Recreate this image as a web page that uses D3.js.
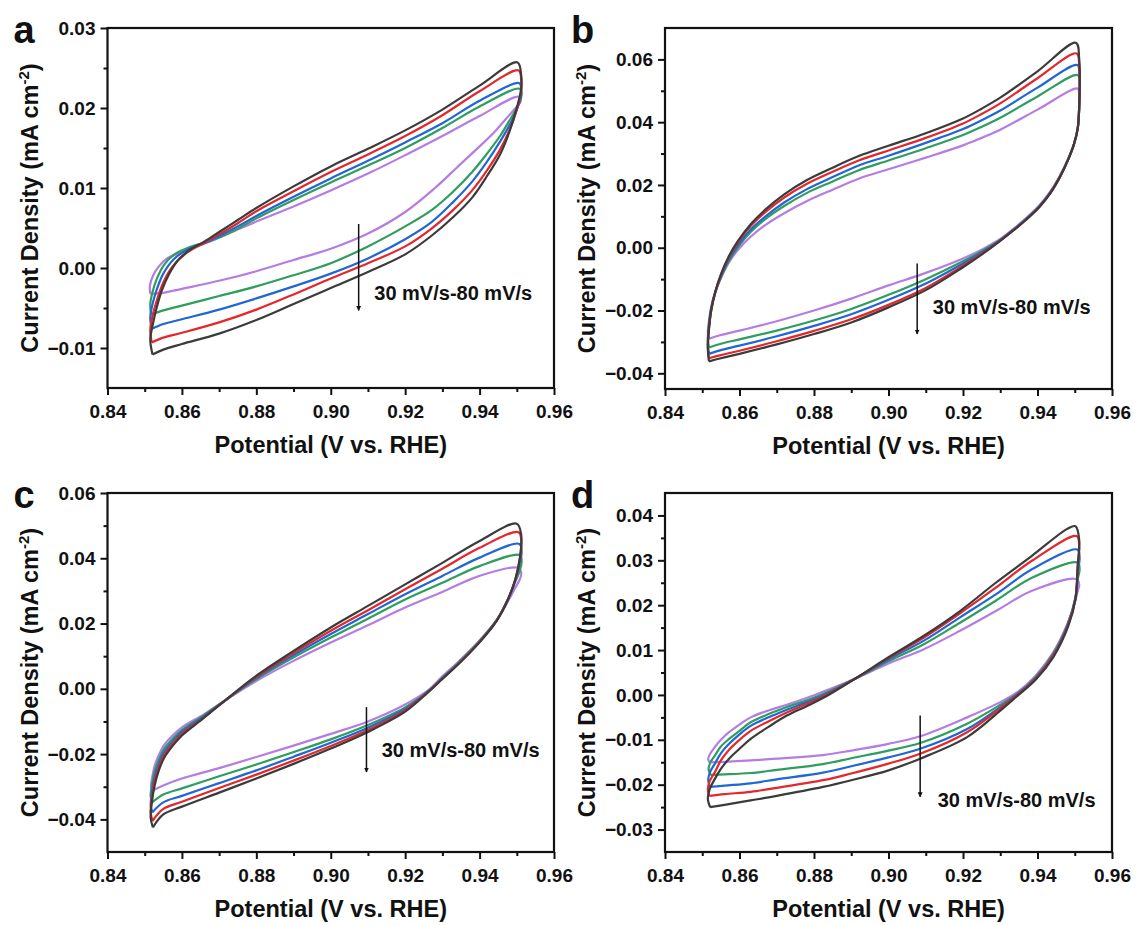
<!DOCTYPE html>
<meta charset="utf-8">
<head>
<style>
  body { margin: 0; background: #fff; }
  text { font-family: "Liberation Sans", Arial, sans-serif; font-weight: bold; fill: #111; }
</style>
</head>
<script src="https://d3js.org/d3.v7.min.js"></script>
<body>
<div id="my_dataviz"></div>
<script>
// ---- data: [potential (V), current density (mA cm-2)] ----
// each loop = anodic branch (left -> right) then cathodic branch (right -> left)

// panel a
var aBlack = [[0.8521,-0.0108],[0.8515,-0.0090],[0.8522,-0.0070],[0.8532,-0.0050],[0.8546,-0.0028],[0.8565,-0.0008],[0.8590,0.0010],[0.8622,0.0023],[0.8660,0.0033],[0.8700,0.0045],[0.8750,0.0060],[0.8800,0.0075],[0.8900,0.0102],[0.9000,0.0127],[0.9100,0.0149],[0.9200,0.0172],[0.9300,0.0198],[0.9400,0.0228],[0.9502,0.0257],
  [0.9512,0.0240],[0.9512,0.0225],[0.9500,0.0200],[0.9480,0.0170],[0.9455,0.0142],[0.9420,0.0115],[0.9380,0.0088],[0.9330,0.0064],[0.9270,0.0040],[0.9200,0.0017],[0.9100,-0.0005],[0.9000,-0.0025],[0.8900,-0.0045],[0.8800,-0.0065],[0.8700,-0.0082],[0.8600,-0.0095],[0.8550,-0.0102],[0.8521,-0.0108]];
var aRed = [[0.8519,-0.0093],[0.8515,-0.0078],[0.8521,-0.0060],[0.8533,-0.0040],[0.8550,-0.0018],[0.8575,0.0002],[0.8610,0.0018],[0.8650,0.0029],[0.8700,0.0042],[0.8750,0.0056],[0.8800,0.0071],[0.8900,0.0096],[0.9000,0.0120],[0.9100,0.0142],[0.9200,0.0165],[0.9300,0.0191],[0.9400,0.0221],[0.9505,0.0247],
  [0.9512,0.0232],[0.9512,0.0222],[0.9500,0.0198],[0.9480,0.0172],[0.9455,0.0148],[0.9420,0.0122],[0.9380,0.0097],[0.9330,0.0073],[0.9270,0.0049],[0.9200,0.0027],[0.9100,0.0006],[0.9000,-0.0013],[0.8900,-0.0033],[0.8800,-0.0052],[0.8700,-0.0068],[0.8600,-0.0081],[0.8550,-0.0087],[0.8519,-0.0093]];
var aBlue = [[0.8519,-0.0076],[0.8515,-0.0062],[0.8521,-0.0045],[0.8533,-0.0026],[0.8550,-0.0007],[0.8578,0.0011],[0.8615,0.0023],[0.8660,0.0031],[0.8700,0.0040],[0.8750,0.0052],[0.8800,0.0065],[0.8900,0.0089],[0.9000,0.0112],[0.9100,0.0134],[0.9200,0.0157],[0.9300,0.0181],[0.9400,0.0209],[0.9507,0.0231],
  [0.9512,0.0222],[0.9512,0.0216],[0.9500,0.0198],[0.9480,0.0178],[0.9455,0.0158],[0.9420,0.0133],[0.9380,0.0108],[0.9330,0.0083],[0.9270,0.0057],[0.9200,0.0036],[0.9100,0.0012],[0.9000,-0.0007],[0.8900,-0.0023],[0.8800,-0.0038],[0.8700,-0.0052],[0.8600,-0.0064],[0.8550,-0.0070],[0.8519,-0.0076]];
var aGreen = [[0.8517,-0.0058],[0.8515,-0.0045],[0.8521,-0.0030],[0.8533,-0.0013],[0.8552,0.0004],[0.8580,0.0017],[0.8620,0.0026],[0.8665,0.0032],[0.8700,0.0038],[0.8750,0.0049],[0.8800,0.0062],[0.8900,0.0085],[0.9000,0.0107],[0.9100,0.0128],[0.9200,0.0150],[0.9300,0.0175],[0.9400,0.0202],[0.9508,0.0224],
  [0.9512,0.0214],[0.9500,0.0200],[0.9480,0.0184],[0.9455,0.0165],[0.9420,0.0143],[0.9380,0.0120],[0.9330,0.0096],[0.9270,0.0072],[0.9200,0.0052],[0.9100,0.0027],[0.9000,0.0006],[0.8900,-0.0009],[0.8800,-0.0023],[0.8700,-0.0035],[0.8600,-0.0047],[0.8550,-0.0053],[0.8517,-0.0058]];
var aPurple = [[0.8515,-0.0032],[0.8514,-0.0022],[0.8522,-0.0010],[0.8538,0.0002],[0.8560,0.0012],[0.8600,0.0020],[0.8640,0.0027],[0.8680,0.0034],[0.8740,0.0046],[0.8800,0.0058],[0.8900,0.0077],[0.9000,0.0097],[0.9100,0.0118],[0.9200,0.0141],[0.9300,0.0165],[0.9400,0.0190],[0.9505,0.0214],
  [0.9510,0.0208],[0.9495,0.0199],[0.9470,0.0186],[0.9440,0.0170],[0.9400,0.0152],[0.9340,0.0126],[0.9280,0.0100],[0.9200,0.0070],[0.9100,0.0043],[0.9000,0.0024],[0.8900,0.0010],[0.8800,-0.0004],[0.8700,-0.0016],[0.8600,-0.0026],[0.8550,-0.0031],[0.8515,-0.0032]];

// panel b
var bBlack = [[0.8518,-0.0362],[0.8515,-0.0320],[0.8518,-0.0260],[0.8524,-0.0200],[0.8535,-0.0140],[0.8550,-0.0085],[0.8570,-0.0030],[0.8595,0.0020],[0.8630,0.0075],[0.8670,0.0122],[0.8720,0.0170],[0.8780,0.0215],[0.8850,0.0255],[0.8920,0.0292],[0.9000,0.0325],[0.9100,0.0365],[0.9200,0.0412],[0.9250,0.0443],[0.9300,0.0478],[0.9400,0.0562],[0.9503,0.0653],
  [0.9512,0.0600],[0.9512,0.0450],[0.9508,0.0380],[0.9498,0.0330],[0.9482,0.0280],[0.9460,0.0225],[0.9435,0.0175],[0.9405,0.0130],[0.9370,0.0090],[0.9335,0.0055],[0.9300,0.0022],[0.9250,-0.0022],[0.9200,-0.0062],[0.9100,-0.0135],[0.9000,-0.0190],[0.8900,-0.0238],[0.8800,-0.0275],[0.8700,-0.0308],[0.8600,-0.0338],[0.8550,-0.0352],[0.8518,-0.0362]];
var bRed = [[0.8518,-0.0352],[0.8515,-0.0315],[0.8518,-0.0258],[0.8524,-0.0200],[0.8535,-0.0142],[0.8550,-0.0088],[0.8570,-0.0034],[0.8595,0.0015],[0.8630,0.0069],[0.8670,0.0114],[0.8720,0.0160],[0.8780,0.0203],[0.8850,0.0242],[0.8920,0.0278],[0.9000,0.0310],[0.9100,0.0350],[0.9200,0.0396],[0.9250,0.0426],[0.9300,0.0460],[0.9400,0.0540],[0.9505,0.0619],
  [0.9512,0.0575],[0.9512,0.0450],[0.9508,0.0380],[0.9498,0.0330],[0.9482,0.0280],[0.9460,0.0225],[0.9435,0.0175],[0.9405,0.0130],[0.9370,0.0090],[0.9335,0.0055],[0.9300,0.0023],[0.9250,-0.0019],[0.9200,-0.0057],[0.9100,-0.0128],[0.9000,-0.0182],[0.8900,-0.0228],[0.8800,-0.0265],[0.8700,-0.0298],[0.8600,-0.0328],[0.8550,-0.0342],[0.8518,-0.0352]];
var bBlue = [[0.8518,-0.0338],[0.8515,-0.0305],[0.8518,-0.0252],[0.8524,-0.0197],[0.8535,-0.0142],[0.8550,-0.0092],[0.8570,-0.0040],[0.8595,0.0007],[0.8630,0.0058],[0.8670,0.0100],[0.8720,0.0144],[0.8780,0.0186],[0.8850,0.0225],[0.8920,0.0262],[0.9000,0.0293],[0.9100,0.0334],[0.9200,0.0378],[0.9250,0.0406],[0.9300,0.0437],[0.9400,0.0510],[0.9507,0.0582],
  [0.9513,0.0550],[0.9512,0.0450],[0.9508,0.0380],[0.9498,0.0330],[0.9482,0.0280],[0.9460,0.0225],[0.9435,0.0176],[0.9405,0.0131],[0.9370,0.0091],[0.9335,0.0056],[0.9300,0.0024],[0.9250,-0.0015],[0.9200,-0.0050],[0.9100,-0.0114],[0.9000,-0.0166],[0.8900,-0.0212],[0.8800,-0.0249],[0.8700,-0.0282],[0.8600,-0.0312],[0.8550,-0.0326],[0.8518,-0.0338]];
var bGreen = [[0.8518,-0.0318],[0.8515,-0.0290],[0.8518,-0.0245],[0.8524,-0.0193],[0.8535,-0.0142],[0.8550,-0.0095],[0.8570,-0.0045],[0.8595,0.0000],[0.8630,0.0050],[0.8670,0.0092],[0.8720,0.0133],[0.8780,0.0174],[0.8850,0.0211],[0.8920,0.0247],[0.9000,0.0278],[0.9100,0.0317],[0.9200,0.0359],[0.9250,0.0385],[0.9300,0.0414],[0.9400,0.0482],[0.9508,0.0550],
  [0.9513,0.0520],[0.9512,0.0450],[0.9508,0.0380],[0.9498,0.0330],[0.9482,0.0281],[0.9460,0.0226],[0.9435,0.0177],[0.9405,0.0132],[0.9370,0.0092],[0.9335,0.0057],[0.9300,0.0025],[0.9250,-0.0011],[0.9200,-0.0043],[0.9100,-0.0100],[0.9000,-0.0150],[0.8900,-0.0195],[0.8800,-0.0232],[0.8700,-0.0264],[0.8600,-0.0292],[0.8550,-0.0306],[0.8518,-0.0318]];
var bPurple = [[0.8518,-0.0290],[0.8515,-0.0268],[0.8518,-0.0232],[0.8524,-0.0187],[0.8535,-0.0140],[0.8550,-0.0097],[0.8570,-0.0050],[0.8595,-0.0008],[0.8630,0.0035],[0.8670,0.0073],[0.8720,0.0110],[0.8780,0.0148],[0.8850,0.0185],[0.8920,0.0220],[0.9000,0.0250],[0.9100,0.0287],[0.9200,0.0326],[0.9250,0.0350],[0.9300,0.0376],[0.9400,0.0440],[0.9508,0.0507],
  [0.9512,0.0485],[0.9512,0.0450],[0.9508,0.0382],[0.9498,0.0332],[0.9482,0.0283],[0.9460,0.0229],[0.9435,0.0180],[0.9405,0.0135],[0.9370,0.0095],[0.9335,0.0060],[0.9300,0.0028],[0.9250,-0.0006],[0.9200,-0.0034],[0.9100,-0.0080],[0.9000,-0.0120],[0.8900,-0.0162],[0.8800,-0.0200],[0.8700,-0.0234],[0.8600,-0.0264],[0.8550,-0.0278],[0.8518,-0.0290]];

// panel c
var cBlack = [[0.8522,-0.0425],[0.8516,-0.0395],[0.8519,-0.0350],[0.8527,-0.0295],[0.8538,-0.0250],[0.8551,-0.0214],[0.8575,-0.0175],[0.8600,-0.0143],[0.8658,-0.0090],[0.8717,-0.0035],[0.8794,0.0035],[0.8892,0.0110],[0.9000,0.0188],[0.9100,0.0254],[0.9200,0.0320],[0.9300,0.0386],[0.9400,0.0453],[0.9500,0.0506],
  [0.9512,0.0470],[0.9508,0.0400],[0.9496,0.0335],[0.9477,0.0275],[0.9447,0.0210],[0.9398,0.0140],[0.9340,0.0072],[0.9300,0.0030],[0.9262,-0.0010],[0.9200,-0.0070],[0.9100,-0.0132],[0.9000,-0.0183],[0.8900,-0.0230],[0.8800,-0.0275],[0.8700,-0.0318],[0.8600,-0.0361],[0.8550,-0.0385],[0.8522,-0.0425]];
var cRed = [[0.8521,-0.0405],[0.8516,-0.0378],[0.8519,-0.0338],[0.8527,-0.0282],[0.8538,-0.0240],[0.8551,-0.0205],[0.8575,-0.0168],[0.8600,-0.0138],[0.8658,-0.0088],[0.8717,-0.0035],[0.8794,0.0032],[0.8892,0.0104],[0.9000,0.0178],[0.9100,0.0241],[0.9200,0.0305],[0.9300,0.0368],[0.9400,0.0432],[0.9505,0.0480],
  [0.9512,0.0450],[0.9508,0.0395],[0.9496,0.0335],[0.9477,0.0276],[0.9447,0.0211],[0.9398,0.0141],[0.9340,0.0073],[0.9300,0.0031],[0.9262,-0.0009],[0.9200,-0.0066],[0.9100,-0.0126],[0.9000,-0.0175],[0.8900,-0.0220],[0.8800,-0.0263],[0.8700,-0.0304],[0.8600,-0.0346],[0.8550,-0.0368],[0.8521,-0.0405]];
var cBlue = [[0.8520,-0.0379],[0.8516,-0.0355],[0.8519,-0.0320],[0.8527,-0.0268],[0.8538,-0.0229],[0.8551,-0.0196],[0.8575,-0.0161],[0.8600,-0.0132],[0.8658,-0.0085],[0.8717,-0.0035],[0.8794,0.0029],[0.8892,0.0098],[0.9000,0.0168],[0.9100,0.0229],[0.9200,0.0290],[0.9300,0.0346],[0.9400,0.0402],[0.9507,0.0444],
  [0.9513,0.0420],[0.9508,0.0385],[0.9496,0.0333],[0.9477,0.0277],[0.9447,0.0212],[0.9398,0.0142],[0.9340,0.0074],[0.9300,0.0032],[0.9262,-0.0008],[0.9200,-0.0062],[0.9100,-0.0119],[0.9000,-0.0165],[0.8900,-0.0208],[0.8800,-0.0250],[0.8700,-0.0289],[0.8600,-0.0328],[0.8550,-0.0348],[0.8520,-0.0379]];
var cGreen = [[0.8520,-0.0348],[0.8516,-0.0328],[0.8519,-0.0298],[0.8527,-0.0252],[0.8538,-0.0217],[0.8551,-0.0186],[0.8575,-0.0153],[0.8600,-0.0126],[0.8658,-0.0082],[0.8717,-0.0035],[0.8794,0.0025],[0.8892,0.0091],[0.9000,0.0157],[0.9100,0.0215],[0.9200,0.0274],[0.9300,0.0325],[0.9400,0.0376],[0.9508,0.0410],
  [0.9513,0.0390],[0.9508,0.0362],[0.9496,0.0328],[0.9477,0.0276],[0.9447,0.0213],[0.9398,0.0144],[0.9340,0.0076],[0.9300,0.0034],[0.9262,-0.0007],[0.9200,-0.0057],[0.9100,-0.0111],[0.9000,-0.0155],[0.8900,-0.0194],[0.8800,-0.0232],[0.8700,-0.0268],[0.8600,-0.0305],[0.8550,-0.0324],[0.8520,-0.0348]];
var cPurple = [[0.8520,-0.0312],[0.8517,-0.0298],[0.8520,-0.0272],[0.8527,-0.0235],[0.8538,-0.0203],[0.8551,-0.0174],[0.8575,-0.0143],[0.8600,-0.0118],[0.8658,-0.0079],[0.8717,-0.0035],[0.8794,0.0020],[0.8892,0.0081],[0.9000,0.0142],[0.9100,0.0195],[0.9200,0.0249],[0.9300,0.0297],[0.9400,0.0346],[0.9503,0.0371],
  [0.9512,0.0355],[0.9508,0.0335],[0.9496,0.0310],[0.9477,0.0270],[0.9447,0.0212],[0.9398,0.0146],[0.9340,0.0080],[0.9300,0.0038],[0.9262,-0.0004],[0.9200,-0.0048],[0.9100,-0.0100],[0.9000,-0.0138],[0.8900,-0.0174],[0.8800,-0.0209],[0.8700,-0.0243],[0.8600,-0.0275],[0.8550,-0.0296],[0.8520,-0.0312]];

// panel d
var dBlack = [[0.8521,-0.0250],[0.8515,-0.0232],[0.8520,-0.0210],[0.8534,-0.0187],[0.8550,-0.0165],[0.8572,-0.0142],[0.8600,-0.0120],[0.8630,-0.0098],[0.8680,-0.0070],[0.8727,-0.0046],[0.8780,-0.0025],[0.8824,-0.0007],[0.8910,0.0036],[0.9000,0.0084],[0.9095,0.0132],[0.9192,0.0187],[0.9288,0.0250],[0.9385,0.0310],[0.9480,0.0370],[0.9502,0.0376],
  [0.9512,0.0345],[0.9508,0.0290],[0.9502,0.0213],[0.9482,0.0152],[0.9443,0.0085],[0.9395,0.0034],[0.9346,-0.0002],[0.9300,-0.0035],[0.9211,-0.0094],[0.9085,-0.0142],[0.9000,-0.0168],[0.8900,-0.0190],[0.8824,-0.0205],[0.8700,-0.0225],[0.8630,-0.0235],[0.8560,-0.0245],[0.8521,-0.0250]];
var dRed = [[0.8519,-0.0225],[0.8515,-0.0210],[0.8520,-0.0192],[0.8534,-0.0172],[0.8550,-0.0146],[0.8572,-0.0122],[0.8600,-0.0100],[0.8630,-0.0080],[0.8680,-0.0058],[0.8727,-0.0039],[0.8780,-0.0020],[0.8824,-0.0004],[0.8910,0.0036],[0.9000,0.0082],[0.9095,0.0128],[0.9192,0.0182],[0.9288,0.0239],[0.9385,0.0299],[0.9505,0.0354],
  [0.9512,0.0330],[0.9508,0.0285],[0.9502,0.0215],[0.9482,0.0155],[0.9443,0.0088],[0.9395,0.0036],[0.9346,0.0000],[0.9300,-0.0030],[0.9211,-0.0083],[0.9085,-0.0131],[0.9000,-0.0153],[0.8900,-0.0175],[0.8824,-0.0190],[0.8700,-0.0207],[0.8630,-0.0216],[0.8560,-0.0221],[0.8519,-0.0225]];
var dBlue = [[0.8521,-0.0205],[0.8516,-0.0190],[0.8521,-0.0172],[0.8534,-0.0153],[0.8550,-0.0130],[0.8572,-0.0109],[0.8600,-0.0088],[0.8630,-0.0069],[0.8680,-0.0049],[0.8727,-0.0033],[0.8780,-0.0016],[0.8824,-0.0001],[0.8910,0.0036],[0.9000,0.0079],[0.9095,0.0121],[0.9192,0.0173],[0.9288,0.0224],[0.9385,0.0280],[0.9507,0.0324],
  [0.9513,0.0305],[0.9508,0.0275],[0.9502,0.0217],[0.9482,0.0158],[0.9443,0.0090],[0.9395,0.0038],[0.9346,0.0002],[0.9300,-0.0027],[0.9211,-0.0076],[0.9085,-0.0120],[0.9000,-0.0139],[0.8900,-0.0159],[0.8824,-0.0173],[0.8700,-0.0188],[0.8630,-0.0197],[0.8560,-0.0202],[0.8521,-0.0205]];
var dGreen = [[0.8522,-0.0178],[0.8517,-0.0165],[0.8522,-0.0150],[0.8534,-0.0135],[0.8550,-0.0115],[0.8572,-0.0098],[0.8600,-0.0080],[0.8630,-0.0061],[0.8680,-0.0042],[0.8727,-0.0027],[0.8780,-0.0012],[0.8824,0.0002],[0.8910,0.0036],[0.9000,0.0075],[0.9095,0.0113],[0.9192,0.0161],[0.9288,0.0210],[0.9385,0.0261],[0.9508,0.0295],
  [0.9513,0.0280],[0.9508,0.0258],[0.9502,0.0218],[0.9482,0.0160],[0.9443,0.0093],[0.9395,0.0040],[0.9346,0.0003],[0.9300,-0.0022],[0.9211,-0.0064],[0.9085,-0.0107],[0.9000,-0.0124],[0.8900,-0.0141],[0.8824,-0.0154],[0.8700,-0.0167],[0.8630,-0.0174],[0.8560,-0.0177],[0.8522,-0.0178]];
var dPurple = [[0.8519,-0.0150],[0.8516,-0.0142],[0.8522,-0.0130],[0.8534,-0.0116],[0.8550,-0.0100],[0.8572,-0.0083],[0.8600,-0.0066],[0.8630,-0.0050],[0.8680,-0.0034],[0.8727,-0.0022],[0.8780,-0.0007],[0.8824,0.0007],[0.8910,0.0036],[0.9000,0.0070],[0.9095,0.0102],[0.9192,0.0143],[0.9288,0.0187],[0.9385,0.0232],[0.9505,0.0258],
  [0.9512,0.0245],[0.9508,0.0232],[0.9502,0.0212],[0.9482,0.0162],[0.9443,0.0096],[0.9395,0.0043],[0.9346,0.0006],[0.9300,-0.0016],[0.9211,-0.0050],[0.9085,-0.0092],[0.9000,-0.0109],[0.8900,-0.0124],[0.8824,-0.0134],[0.8700,-0.0142],[0.8630,-0.0146],[0.8560,-0.0149],[0.8519,-0.0150]];

// axes
var xDomain = [0.84, 0.96];
var xTicks = [0.84, 0.86, 0.88, 0.90, 0.92, 0.94, 0.96];
var xMinor = [0.85, 0.87, 0.89, 0.91, 0.93, 0.95];
var aYDomain = [-0.015, 0.03], aYTicks = [-0.01, 0, 0.01, 0.02, 0.03], aYMinor = [-0.005, 0.005, 0.015, 0.025];
var bYDomain = [-0.045, 0.07], bYTicks = [-0.04, -0.02, 0, 0.02, 0.04, 0.06], bYMinor = [-0.03, -0.01, 0.01, 0.03, 0.05];
var cYDomain = [-0.05, 0.06], cYTicks = [-0.04, -0.02, 0, 0.02, 0.04, 0.06], cYMinor = [-0.03, -0.01, 0.01, 0.03, 0.05];
var dYDomain = [-0.035, 0.045], dYTicks = [-0.03, -0.02, -0.01, 0, 0.01, 0.02, 0.03, 0.04], dYMinor = [-0.025, -0.015, -0.005, 0.005, 0.015, 0.025, 0.035];

// arrow [x, yStart, yEnd] and note [x, y] in data units
var aArrow = [0.9075, 0.0055, -0.0053], aNote = [0.9117, -0.0040];
var bArrow = [0.9077, -0.0050, -0.0275], bNote = [0.9119, -0.0211];
var cArrow = [0.9096, -0.0056, -0.0255], cNote = [0.9137, -0.0209];
var dArrow = [0.9085, -0.0046, -0.0227], dNote = [0.9132, -0.0250];

var noteText = "30 mV/s-80 mV/s";
var seriesColors = ["#b57de3", "#2f9d5d", "#1f67d3", "#e4272b", "#3b3b3b"]; // purple .. black

var panels = [
  {id: "a", loops: [aPurple, aGreen, aBlue, aRed, aBlack], yDomain: aYDomain, yTicks: aYTicks, yMinor: aYMinor, arrow: aArrow, note: aNote, left: 107.5, top: 28, right: 554, bottom: 388},
  {id: "b", loops: [bPurple, bGreen, bBlue, bRed, bBlack], yDomain: bYDomain, yTicks: bYTicks, yMinor: bYMinor, arrow: bArrow, note: bNote, left: 665, top: 28, right: 1112, bottom: 389},
  {id: "c", loops: [cPurple, cGreen, cBlue, cRed, cBlack], yDomain: cYDomain, yTicks: cYTicks, yMinor: cYMinor, arrow: cArrow, note: cNote, left: 107.5, top: 493, right: 554, bottom: 852},
  {id: "d", loops: [dPurple, dGreen, dBlue, dRed, dBlack], yDomain: dYDomain, yTicks: dYTicks, yMinor: dYMinor, arrow: dArrow, note: dNote, left: 665, top: 493, right: 1112, bottom: 852}
];

var svg = d3.select("#my_dataviz")
  .append("svg")
    .attr("width", 1137)
    .attr("height", 925);

svg.append("defs").append("marker")
    .attr("id", "arrowhead")
    .attr("viewBox", "0 0 10 10")
    .attr("refX", 9).attr("refY", 5)
    .attr("markerWidth", 5).attr("markerHeight", 7)
    .attr("markerUnits", "userSpaceOnUse")
    .attr("orient", "auto")
  .append("path")
    .attr("d", "M0,0 L10,5 L0,10 Z")
    .attr("fill", "#111");

var fmt = d3.format(".2f");

panels.forEach(function(p) {
  var w = p.right - p.left, h = p.bottom - p.top;
  var g = svg.append("g").attr("transform", "translate(" + p.left + "," + p.top + ")");

  var x = d3.scaleLinear().domain(xDomain).range([0, w]);
  var y = d3.scaleLinear().domain(p.yDomain).range([h, 0]);

  // curves
  var line = d3.line()
    .x(function(d) { return x(d[0]); })
    .y(function(d) { return y(d[1]); })
    .curve(d3.curveCatmullRom.alpha(0.5));

  g.selectAll(".loop")
    .data(p.loops)
    .enter()
    .append("path")
      .attr("class", "loop")
      .attr("d", line)
      .attr("fill", "none")
      .attr("stroke", function(d, i) { return seriesColors[i]; })
      .attr("stroke-width", 2.2)
      .attr("stroke-linejoin", "round");

  // minor ticks
  g.append("g")
    .attr("transform", "translate(0," + h + ")")
    .call(d3.axisBottom(x).tickValues(xMinor).tickSize(4).tickFormat(""))
    .call(function(s) { s.select(".domain").remove(); });
  g.append("g")
    .call(d3.axisLeft(y).tickValues(p.yMinor).tickSize(4).tickFormat(""))
    .call(function(s) { s.select(".domain").remove(); });

  // major ticks
  var xa = g.append("g")
    .attr("transform", "translate(0," + h + ")")
    .call(d3.axisBottom(x).tickValues(xTicks).tickSize(7).tickPadding(5).tickFormat(fmt));
  xa.select(".domain").remove();
  xa.selectAll("text").attr("font-size", 19).attr("dy", "0.95em");

  var ya = g.append("g")
    .call(d3.axisLeft(y).tickValues(p.yTicks).tickSize(7).tickPadding(5).tickFormat(fmt));
  ya.select(".domain").remove();
  ya.selectAll("text").attr("font-size", 19);

  g.selectAll(".tick line").attr("stroke", "#111").attr("stroke-width", 2);

  // frame
  g.append("rect")
    .attr("width", w).attr("height", h)
    .attr("fill", "none")
    .attr("stroke", "#111")
    .attr("stroke-width", 2.2);

  // arrow + note
  g.append("line")
    .attr("x1", x(p.arrow[0])).attr("x2", x(p.arrow[0]))
    .attr("y1", y(p.arrow[1])).attr("y2", y(p.arrow[2]))
    .attr("stroke", "#111").attr("stroke-width", 1.5)
    .attr("marker-end", "url(#arrowhead)");
  g.append("text")
    .attr("x", x(p.note[0])).attr("y", y(p.note[1]))
    .attr("font-size", 20)
    .text(noteText);

  // axis titles
  g.append("text")
    .attr("x", w / 2).attr("y", h + 65)
    .attr("text-anchor", "middle")
    .attr("font-size", 23.5)
    .text("Potential (V vs. RHE)");

  var yl = g.append("text")
    .attr("transform", "translate(-70," + (h / 2) + ") rotate(-90)")
    .attr("text-anchor", "middle")
    .attr("font-size", 23.5);
  yl.append("tspan").text("Current Density (mA cm");
  yl.append("tspan").attr("font-size", 15).attr("dy", -9).text("-2");
  yl.append("tspan").attr("dy", 9).text(")");

  // panel letter
  g.append("text")
    .attr("x", -94).attr("y", 15)
    .attr("font-size", 38)
    .text(p.id);
});
</script>
</body>
